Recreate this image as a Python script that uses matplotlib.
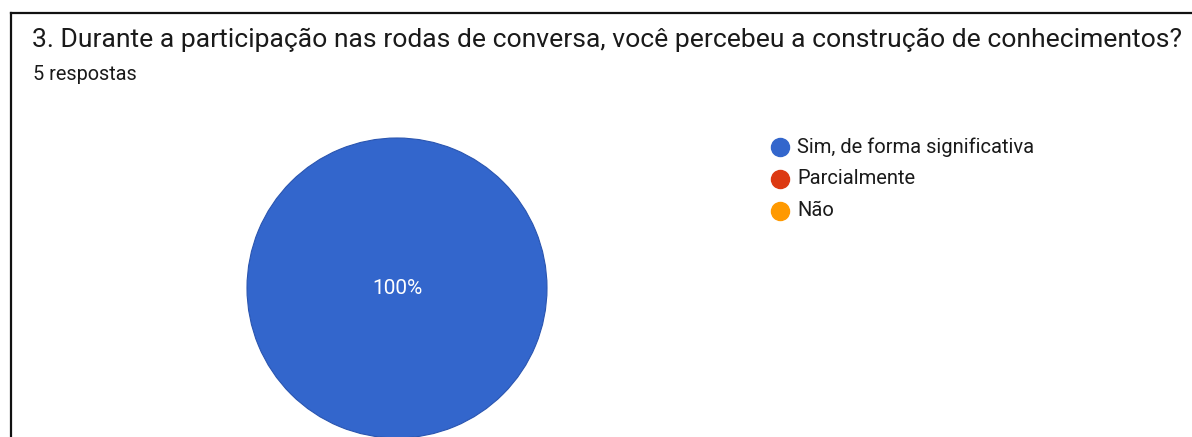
import matplotlib
matplotlib.use('Agg')
import matplotlib.pyplot as plt
from matplotlib.lines import Line2D

# dados do gráfico (Google Forms)
titulo = "3. Durante a participação nas rodas de conversa, você percebeu a construção de conhecimentos?"
subtitulo = "5 respostas"
categorias = ["Sim, de forma significativa", "Parcialmente", "Não"]
respostas = [5, 0, 0]
cores = ["#3366CC", "#DC3912", "#FF9900"]

W, H = 1192, 437
fig = plt.figure(figsize=(W / 100, H / 100), dpi=100)
fig.patch.set_facecolor('white')

# moldura (borda preta do recorte)
fig.add_artist(Line2D([11 / W, 11 / W], [0, 1 - 13 / H], color='#111111', lw=1.6))
fig.add_artist(Line2D([11 / W, 1], [1 - 13 / H, 1 - 13 / H], color='#111111', lw=1.6))

fig.text(32 / W, 1 - 40 / H, titulo, fontsize=19.05, family='Roboto',
         color='#1a1a1a', va='center', ha='left')
fig.text(33 / W, 1 - 74 / H, subtitulo, fontsize=14.3, family='Roboto',
         color='#1a1a1a', va='center', ha='left')

# pizza
cx, cy, r = 397, 288, 150
ax = fig.add_axes([(cx - r) / W, (H - cy - r) / H, 2 * r / W, 2 * r / H])
vals = [v for v in respostas if v > 0]
cols = [c for v, c in zip(respostas, cores) if v > 0]
wedges, textos, autotextos = ax.pie(
    vals, colors=cols, startangle=90, counterclock=False,
    autopct=lambda p: f"{p:.0f}%", pctdistance=0.0,
    wedgeprops=dict(edgecolor='#2a55b0', linewidth=0.8),
    textprops=dict(color='white', fontsize=15, family='Roboto'))
for w in wedges:
    w.set_clip_on(False)
ax.set_xlim(-1, 1)
ax.set_ylim(-1, 1)
ax.set_aspect('equal')
ax.axis('off')

# legenda
for i, (cat, cor) in enumerate(zip(categorias, cores)):
    y = 147 + 32 * i
    fig.add_artist(Line2D([780 / W], [1 - y / H], marker='o', markersize=13,
                          markerfacecolor=cor, markeredgecolor=cor, lw=0))
    fig.text(797 / W, 1 - y / H, cat, fontsize=14.5, family='Roboto',
             color='#1a1a1a', va='center', ha='left')

fig.savefig('out.png', dpi=100, facecolor='white')
